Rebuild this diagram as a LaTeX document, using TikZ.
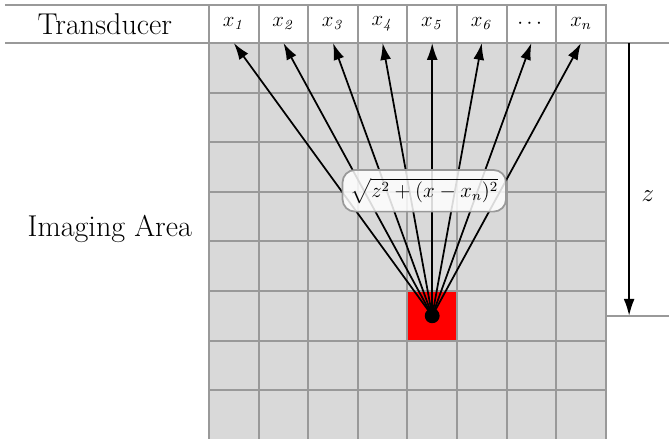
\documentclass[tikz,border=0pt]{standalone}
\usepackage{amsmath,amssymb}
\usepackage{tikz}
\usetikzlibrary{arrows.meta, positioning, calc}

\tikzset{
  cellline/.style={draw=gray!80, line width=1.1pt},
  tcell/.style={cellline, fill=white, minimum width=1cm, minimum height=0.77cm, inner sep=0pt, outer sep=0pt, anchor=south west},
  ray/.style={line width=1pt, -{Latex[length=3.4mm,width=2.2mm]}},
}

\begin{document}
\begin{tikzpicture}
    \useasboundingbox (-4.214,0.867) rectangle (9.274,-7.964);

    % Imaging area
    \fill[gray!30] (0,0) rectangle (8,-8);
    \fill[red] (4,-5) rectangle (5,-6);
    \draw[cellline] (0,-8) grid (8,0);

    % Transducer elements
    \foreach \i/\lab in {1/{$x_{\mathit{1}}$}, 2/{$x_{\mathit{2}}$}, 3/{$x_{\mathit{3}}$}, 4/{$x_{\mathit{4}}$},
                         5/{$x_{\mathit{5}}$}, 6/{$x_{\mathit{6}}$}, 7/{$\cdots$}, 8/{$x_n$}}
        \node[tcell, font=\large] (x\i) at (\i-1,0) {\lab};

    % Side labels and rules
    \draw[cellline] (-4.11,0.77) -- (x1.north west);
    \draw[cellline] (-4.11,0) -- (x1.south west);
    \node[font=\LARGE] (trans) at (-2.1,0.38) {Transducer};
    \node[font=\LARGE] (area) at (-2.0,-3.75) {Imaging Area};

    % Rays from the point source
    \node[circle, fill=black, inner sep=0pt, minimum size=0.3cm] (src) at (4.5,-5.5) {};
    \foreach \i in {1,...,8}
        \draw[ray] (src.center) -- (x\i.south);
    \node[draw=gray!80, line width=1pt, fill=white, fill opacity=0.85, text opacity=1,
          rounded corners=2.5mm, inner sep=4.5pt, font=\large] (dist) at (4.34,-2.98) {$\sqrt{z^2+(x-x_n)^2}$};

    % Depth
    \coordinate (ztop) at (8.47,0);
    \coordinate (zbot) at (8.47,-5.5);
    \draw[cellline] (8,0) -- (9.274,0);
    \draw[cellline] (8,-5.5) -- (9.274,-5.5);
    \draw[ray] (ztop) -- (zbot);
    \node[font=\Large] (zlab) at (8.85,-3.08) {$z$};
\end{tikzpicture}
\end{document}
